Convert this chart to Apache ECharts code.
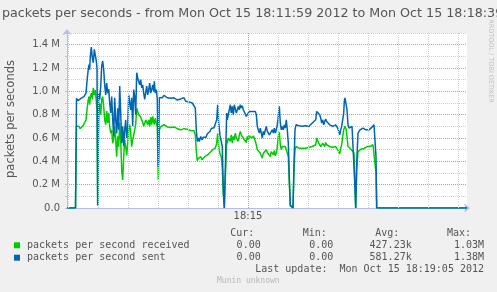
<!DOCTYPE html>
<html><head><meta charset="utf-8">
<script src="https://cdn.jsdelivr.net/npm/echarts@6/dist/echarts.min.js"></script>
<style>html,body{margin:0;padding:0;background:#f0f0f0;}#c{width:497px;height:292px;}</style>
</head><body><div id="c"></div>
<script>
// seconds after 18:11:59
const times = [0,8.5,9.5,11,12,13,14,15,16,17,18,19,20,21,22,22.7,23.3,24.3,25.3,26.3,27.3,28.3,29.3,30,30.7,31.7,32.7,33.7,34.7,35.7,36.7,37.7,38.7,39.7,40.7,41.7,42.7,43.7,44.7,45.7,46.7,47.7,48.7,49.7,50.7,51.7,52.7,53.7,54.7,55.7,56.7,57.7,58.7,59.7,60.7,61.7,62.7,63.7,64.7,65.7,66.7,67.7,68.7,69.7,70.7,71.7,72.7,73.7,74.7,75.7,76.7,77.7,78.7,79.7,80.7,81.7,82.7,83.7,84.7,85.7,86.7,87.3,88.3,89.3,90.3,91.3,92.3,93.7,95.3,97,98.7,100.3,102,103.7,105.3,107,108.7,110.3,112,113.7,115.3,117,118.7,120.3,122,123.7,125.3,127,128.3,129.3,130.3,131.3,132.3,133.7,135,136.3,137.7,139,140.3,141.7,143,144.3,145.7,147,148.3,149.7,150.7,151.7,153,154.3,155.3,156.3,157.3,158.7,159.7,160.3,161.3,162.3,163.3,164.3,165.3,166.3,167.3,168.3,169.3,170.3,171.3,172.3,173.3,174.3,175.3,176.3,177.3,178.3,179.3,180.3,181.3,182.3,183.3,184.3,185.3,186.3,187.3,188.3,189.3,190.3,191.3,192.3,193.3,194.3,195.3,196.3,197.3,198.3,199.3,200.3,201.3,202.3,203.3,204.3,205.3,206.3,207.3,208.3,209.3,210.3,211.3,212.3,213.3,214.3,215.3,216.3,217.3,218.3,219.3,220.3,221.3,222.3,223.3,226,227,228,229,230.3,232,233.7,235.3,237,238.7,240.3,242,243.7,245.3,247,248.7,249.7,250.7,251.7,252.7,253.7,254.7,255.7,256.7,257.7,258.7,259.7,260.7,261.7,262.7,263.7,264.7,265.7,266.7,267.7,268.7,269.7,270.7,271.7,272.7,273.7,274.7,275.7,276.7,277.3,278,278.7,279.3,280,281,282,283,284,285,286,287,288,288.7,289.7,291,292,293,294,295,296,297,298,299,300,301,302,303,304,305,306,307,308,309,309.7,400];
// packets per second received (M)
const received = [0,0,0.70,0.685,0.70,0.68,0.675,0.69,0.705,0.71,0.72,0.755,0.84,0.915,0.955,0.885,0.955,0.985,0.93,1.03,0.97,1.01,0.915,0.84,0.02,0.84,0.895,0.80,0.93,0.955,0.87,0.755,0.715,0.83,0.73,0.815,0.70,0.64,0.67,0.555,0.59,0.70,0.585,0.44,0.615,0.525,0.73,0.585,0.325,0.24,0.44,0.585,0.525,0.45,0.555,0.67,0.715,0.64,0.525,0.585,0.625,0.67,0.72,0.855,0.84,0.80,0.815,0.78,0.755,0.735,0.70,0.71,0.755,0.77,0.715,0.755,0.70,0.78,0.715,0.785,0.735,0.715,0.77,0.73,0.695,0.24,0.67,0.695,0.70,0.715,0.70,0.695,0.705,0.69,0.685,0.695,0.68,0.68,0.685,0.67,0.675,0.68,0.667,0.675,0.67,0.665,0.662,0.662,0.627,0.485,0.405,0.425,0.42,0.44,0.413,0.43,0.44,0.43,0.453,0.46,0.476,0.487,0.50,0.493,0.513,0.556,0.64,0.527,0.464,0.44,0.34,0.125,0,0,0.585,0.556,0.60,0.613,0.57,0.627,0.556,0.613,0.585,0.642,0.60,0.613,0.57,0.627,0.656,0.627,0.613,0.619,0.585,0.60,0.562,0.613,0.585,0.619,0.607,0.613,0.60,0.619,0.60,0.585,0.542,0.499,0.484,0.49,0.47,0.456,0.427,0.47,0.456,0.484,0.499,0.476,0.464,0.484,0.441,0.484,0.47,0.456,0.493,0.447,0.47,0.527,0.613,0.65,0.542,0.50,0.527,0.513,0.542,0.527,0.542,0.527,0.441,0.21,0.017,0,0.327,0.50,0.527,0.52,0.513,0.52,0.513,0.52,0.513,0.52,0.52,0.53,0.527,0.542,0.542,0.60,0.613,0.556,0.542,0.527,0.513,0.556,0.542,0.527,0.562,0.542,0.527,0.542,0.527,0.533,0.527,0.52,0.533,0.52,0.527,0.513,0.499,0.484,0.464,0.513,0.542,0.613,0.67,0.685,0.70,0.693,0.67,0.613,0.527,0.52,0.513,0.504,0.513,0.499,0.47,0.155,0,0.327,0.484,0.499,0.493,0.504,0.499,0.513,0.51,0.52,0.513,0.527,0.52,0.533,0.527,0.533,0.542,0.542,0.55,0.527,0.30,0,0];
// packets per second sent (M)
const sent = [0,0,0.94,0.92,0.905,0.93,0.94,0.93,0.94,0.955,0.965,0.985,1.085,1.17,1.23,1.185,1.30,1.38,1.29,1.245,1.36,1.36,1.26,1.20,0.025,0.985,0.93,1.04,1.215,1.26,1.185,1.055,0.97,1.07,0.985,1.02,0.90,0.815,0.955,0.755,0.615,0.945,0.755,0.64,0.855,0.67,1.045,0.815,0.555,0.70,0.53,0.67,0.755,0.60,0.70,0.97,0.955,0.84,0.945,0.70,1.015,0.955,0.80,1.16,1.115,1.13,1.055,1.10,1.03,1.055,0.985,0.93,0.99,1.045,0.97,1.015,1.07,0.985,1.015,1.055,1.0,1.085,0.985,1.015,0.93,0.355,0.945,0.955,0.945,0.965,0.97,0.945,0.955,0.94,0.93,0.945,0.935,0.925,0.91,0.935,0.92,0.945,0.915,0.925,0.91,0.905,0.90,0.897,0.857,0.67,0.57,0.60,0.57,0.613,0.585,0.607,0.62,0.607,0.636,0.62,0.656,0.682,0.67,0.688,0.676,0.756,0.885,0.728,0.62,0.636,0.527,0.155,0,0,0.814,0.756,0.80,0.842,0.885,0.814,0.871,0.80,0.885,0.90,0.814,0.842,0.871,0.842,0.885,0.857,0.877,0.842,0.828,0.857,0.785,0.80,0.771,0.828,0.814,0.842,0.828,0.842,0.814,0.828,0.80,0.70,0.67,0.642,0.685,0.642,0.60,0.656,0.627,0.67,0.70,0.656,0.67,0.627,0.642,0.613,0.67,0.642,0.685,0.642,0.67,0.713,0.785,0.871,0.728,0.67,0.70,0.67,0.713,0.685,0.756,0.67,0.556,0.27,0.026,0,0.384,0.67,0.713,0.70,0.705,0.693,0.70,0.693,0.705,0.70,0.70,0.713,0.728,0.742,0.756,0.828,0.842,0.814,0.80,0.771,0.728,0.756,0.713,0.742,0.762,0.742,0.728,0.742,0.713,0.728,0.722,0.70,0.713,0.70,0.713,0.70,0.685,0.656,0.627,0.67,0.70,0.756,0.814,0.914,0.943,0.957,0.928,0.842,0.713,0.685,0.70,0.685,0.70,0.713,0.685,0.18,0,0.384,0.642,0.656,0.67,0.685,0.67,0.685,0.676,0.685,0.67,0.676,0.685,0.67,0.685,0.67,0.693,0.705,0.713,0.70,0.44,0,0];

const minorGridTimes = [1,31,61,91,121,151,211,241,271,301,331,361,391]; // every 30 s
const majorGridTimes = [181];  // 18:15:00
const xTickTimes = [181];
const xTickLabels = ['18:15'];
const seriesNames = ['packets per second received','packets per second sent'];
const seriesColors = ['#00cc00','#0066b3'];
const statHeaders = ['Cur:','Min:','Avg:','Max:'];
const statCur = ['0.00','0.00'];
const statMin = ['0.00','0.00'];
const statAvg = ['427.23k','581.27k'];
const statMax = ['1.03M','1.38M'];
const titleText = 'packets per seconds - from Mon Oct 15 18:11:59 2012 to Mon Oct 15 18:18:39';
const yName = 'packets per seconds';
const lastUpdate = 'Last update:  Mon Oct 15 18:19:05 2012';

const chart = echarts.init(document.getElementById('c'), null, {renderer:'canvas'});
const axisCol = '#b4bcf0';
const red = '#e08c8c', gray = '#d0d0d0';
const yTickCount = 16;
const yColors = [];
for (let i = 0; i < yTickCount; i++) yColors.push(i % 2 === 0 ? red : gray);

const mono = '"DejaVu Sans Mono"';
const sans = '"DejaVu Sans"';
const txt = '#555';
const graphics = [
  {type:'text', x:2, y:13.3, style:{text:titleText, font:'12.7px '+sans, fill:txt, align:'left', verticalAlign:'middle'}},
  {type:'text', x:11, y:119, rotation:Math.PI/2, style:{text:yName, font:'11.5px '+sans, fill:txt, align:'center', verticalAlign:'middle'}},
  {type:'text', x:491, y:61, rotation:-Math.PI/2, style:{text:'RRDTOOL / TOBI OETIKER', font:'6.5px '+sans, fill:'#c0c0c0', align:'center', verticalAlign:'middle'}}
];
const headX = [230.3, 302.7, 375.3, 447];
statHeaders.forEach((h,i)=>graphics.push({type:'text', x:headX[i], y:233.7, style:{text:h, font:'10px '+mono, fill:txt, align:'left', verticalAlign:'middle'}}));
const valX = [260.7, 333.3, 411.7, 484];
const rowY = [245.3, 257.7];
[statCur, statMin, statAvg, statMax].forEach((col,ci)=>{
  col.forEach((v,ri)=>graphics.push({type:'text', x:valX[ci], y:rowY[ri], style:{text:v, font:'10px '+mono, fill:txt, align:'right', verticalAlign:'middle'}}));
});
graphics.push({type:'text', x:484, y:269.7, style:{text:lastUpdate, font:'10px '+mono, fill:txt, align:'right', verticalAlign:'middle'}});
graphics.push({type:'text', x:248.3, y:281, style:{text:'Munin unknown', font:'8px '+mono, fill:'#b8b8b8', align:'center', verticalAlign:'middle'}});

const gridLines = minorGridTimes.map(t=>({xAxis:t, lineStyle:{color:gray, type:[1,1], width:1}}))
  .concat(majorGridTimes.map(t=>({xAxis:t, lineStyle:{color:red, type:[1,1], width:1}})));

chart.setOption({
  animation:false,
  backgroundColor:'#f0f0f0',
  grid:{left:67, top:33, width:400, height:175, show:true, backgroundColor:'#ffffff', borderWidth:0},
  legend:{
    data:seriesNames, orient:'vertical', left:14, top:239.1, padding:0, itemGap:0,
    itemWidth:6, itemHeight:6, icon:'rect', selectedMode:false,
    textStyle:{fontFamily:mono, fontSize:10, color:txt, lineHeight:12.4, padding:[0,0,0,2]}
  },
  xAxis:{
    type:'value', min:0, max:400,
    axisLine:{show:true, lineStyle:{color:axisCol, width:1}, symbol:['none','arrow'], symbolSize:[7,6], symbolOffset:[0,3]},
    axisTick:{show:false},
    splitLine:{show:false},
    axisLabel:{customValues:xTickTimes, formatter:v=>{const i=xTickTimes.indexOf(v); return i>=0?xTickLabels[i]:'';}, fontFamily:sans, fontSize:10, color:txt, margin:3}
  },
  yAxis:{
    type:'value', min:0, max:1.5, interval:0.1,
    axisLine:{show:true, lineStyle:{color:axisCol, width:1}, symbol:['none','arrow'], symbolSize:[7,6], symbolOffset:[0,4]},
    axisTick:{show:true, length:2, lineStyle:{color:axisCol}},
    splitLine:{show:true, lineStyle:{color:yColors, type:[1,1], width:1}},
    axisLabel:{fontFamily:sans, fontSize:10, color:txt, margin:7,
      formatter:v=>{const k=Math.round(v*10); if(k===0) return '0.0'; return k%2? '' : (k/10).toFixed(1)+' M';}}
  },
  graphic:graphics,
  series:[
    {type:'line', name:'grid', data:[], silent:true, z:1,
      markLine:{symbol:'none', silent:true, animation:false, label:{show:false}, data:gridLines}},
    {type:'line', name:seriesNames[0], color:seriesColors[0], data:times.map((t,i)=>[t,received[i]]),
      symbol:'none', showSymbol:false, z:3, lineStyle:{width:1.5, color:seriesColors[0]}},
    {type:'line', name:seriesNames[1], color:seriesColors[1], data:times.map((t,i)=>[t,sent[i]]),
      symbol:'none', showSymbol:false, z:4, lineStyle:{width:1.5, color:seriesColors[1]}}
  ]
});
</script></body></html>
